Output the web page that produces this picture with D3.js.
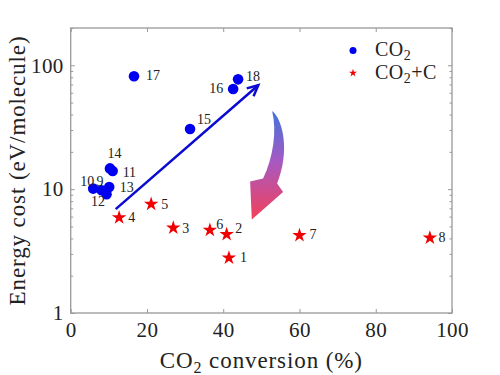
<!DOCTYPE html>
<html>
<head>
<meta charset="utf-8">
<script src="https://cdn.jsdelivr.net/npm/d3@7"></script>
<style>
  body { margin: 0; background: #fff; }
  svg { display: block; }
  text { font-family: "Liberation Serif", "DejaVu Serif", serif; fill: #222; }
</style>
</head>
<body>
<div id="chart"></div>
<script>
// CO2 only (blue circles)
const co2Labels = ['9', '10', '11', '12', '13', '14', '15', '16', '17', '18'];
const co2Conversion = [8.1, 5.9, 11.0, 9.4, 10.1, 10.3, 31.3, 42.6, 16.6, 43.9];
const co2Cost = [9.8, 10.1, 14.0, 9.1, 10.4, 14.7, 30.6, 64.4, 81.5, 77];

// CO2 + C (red stars)
const mixLabels = ['1', '2', '3', '4', '5', '6', '7', '8'];
const mixConversion = [41.5, 40.9, 26.9, 12.7, 21.1, 36.5, 60.0, 94.2];
const mixCost = [2.79, 4.31, 4.87, 5.9, 7.57, 4.67, 4.23, 4.05];

// axis ticks
const xTicks = [0, 20, 40, 60, 80, 100];
const yTicks = [1, 10, 100];

// label placement (pixel offset from the marker, text anchor)
const labelPos = {
    '9': [-1.5, -9, 'middle'], '10': [1, -7.5, 'end'], '11': [10, 1.5, 'start'],
    '12': [-1.5, 7, 'end'], '13': [10.5, 0.5, 'start'], '14': [4.5, -15, 'middle'],
    '15': [7, -10, 'start'], '16': [-10, -1, 'end'], '17': [12, -1.5, 'start'],
    '18': [8, -3, 'start'],
    '1': [11, -1, 'start'], '2': [8.5, -6, 'start'], '3': [9, 0, 'start'],
    '4': [9, 0, 'start'], '5': [10, 0, 'start'], '6': [6.5, -6, 'start'],
    '7': [10, -1, 'start'], '8': [8.5, -1, 'start']
};

const W = 500, H = 375;
const margin = {top: 28, right: 48, bottom: 62, left: 70.7};
const axisColor = '#999';

const svg = d3.select('#chart').append('svg')
    .attr('width', W)
    .attr('height', H);

const x = d3.scaleLinear().domain([0, 100]).range([margin.left, W - margin.right]);
const y = d3.scaleLog().domain([1, 200]).range([H - margin.bottom, margin.top]);

const minorY = [];
for (let d = 1; d <= 100; d *= 10) {
    for (let k = 2; k <= 9; k++) {
        if (k * d <= 200) minorY.push(k * d);
    }
}

//////////////////////////////////////////////////////////////////////
// Axes and frame
//////////////////////////////////////////////////////////////////////
function styleAxis(g) {
    g.select('.domain').remove();
    g.selectAll('.tick line').attr('stroke', axisColor).attr('stroke-width', 1);
    g.selectAll('.tick text').attr('font-size', 21).attr('fill', '#222')
        .attr('letter-spacing', 0.4)
        .attr('font-family', '"Liberation Serif", serif');
}

svg.append('g')
    .attr('transform', `translate(0,${H - margin.bottom})`)
    .call(d3.axisBottom(x).tickValues(xTicks).tickSize(-4).tickPadding(9))
    .call(styleAxis);

svg.append('g')
    .attr('transform', `translate(0,${margin.top})`)
    .call(d3.axisTop(x).tickValues(xTicks).tickSize(-4).tickFormat(''))
    .call(styleAxis);

svg.append('g')
    .attr('transform', `translate(${margin.left},0)`)
    .call(d3.axisLeft(y).tickValues(yTicks).tickSize(-4).tickPadding(7).tickFormat(d3.format('d')))
    .call(styleAxis);

svg.append('g')
    .attr('transform', `translate(${margin.left},0)`)
    .call(d3.axisLeft(y).tickValues(minorY).tickSize(-2.5).tickFormat(''))
    .call(styleAxis);

svg.append('g')
    .attr('transform', `translate(${W - margin.right},0)`)
    .call(d3.axisRight(y).tickValues(yTicks).tickSize(-4).tickFormat(''))
    .call(styleAxis);

svg.append('g')
    .attr('transform', `translate(${W - margin.right},0)`)
    .call(d3.axisRight(y).tickValues(minorY).tickSize(-2.5).tickFormat(''))
    .call(styleAxis);

svg.append('rect')
    .attr('x', margin.left)
    .attr('y', margin.top)
    .attr('width', W - margin.left - margin.right)
    .attr('height', H - margin.top - margin.bottom)
    .attr('fill', 'none')
    .attr('stroke', axisColor)
    .attr('stroke-width', 1.3);

// axis titles
const xTitle = svg.append('text')
    .attr('x', (margin.left + W - margin.right) / 2)
    .attr('y', 368)
    .attr('text-anchor', 'middle')
    .attr('font-size', 23)
    .attr('letter-spacing', 0.9);
xTitle.append('tspan').text('CO');
xTitle.append('tspan').text('2').attr('font-size', 16).attr('dy', 5);
xTitle.append('tspan').text(' conversion (%)').attr('dy', -5);

svg.append('text')
    .attr('transform', `translate(25,${(margin.top + H - margin.bottom) / 2}) rotate(-90)`)
    .attr('text-anchor', 'middle')
    .attr('font-size', 23)
    .attr('letter-spacing', 0.9)
    .text('Energy cost (eV/molecule)');

//////////////////////////////////////////////////////////////////////
// Annotation arrows
//////////////////////////////////////////////////////////////////////
const defs = svg.append('defs');
const grad = defs.append('linearGradient')
    .attr('id', 'trend')
    .attr('x1', 0).attr('y1', 0).attr('x2', 0).attr('y2', 1);
grad.append('stop').attr('offset', '0%').attr('stop-color', '#3f74dc');
grad.append('stop').attr('offset', '45%').attr('stop-color', '#a45ac4');
grad.append('stop').attr('offset', '100%').attr('stop-color', '#f4405a');

// curved arrow, drawn relative to its tip
const tipX = x(47.5), tipY = y(5.7);
const p = (dx, dy) => `${tipX + dx},${tipY + dy}`;
svg.append('path')
    .attr('d', `M${p(20.3, -108.5)} C${p(31.3, -100)} ${p(38.3, -68)} ${p(25.3, -36)}
        L${p(31.3, -27.5)} L${p(0, 0)} L${p(-1.7, -38)} L${p(11.3, -41)}
        C${p(21.3, -62)} ${p(25.3, -88)} ${p(20.3, -108.5)} Z`)
    .attr('fill', 'url(#trend)');

// blue trend arrow
const a0 = [x(11.8), y(6.9)], a1 = [x(49.2), y(69)];
const ang = Math.atan2(a1[1] - a0[1], a1[0] - a0[0]);
const headLen = 12, headAng = Math.PI / 7;
svg.append('line')
    .attr('x1', a0[0]).attr('y1', a0[1])
    .attr('x2', a1[0]).attr('y2', a1[1])
    .attr('stroke', '#0a0ad0')
    .attr('stroke-width', 2.5);
svg.append('path')
    .attr('d', `M${a1[0] - headLen * Math.cos(ang - headAng)},${a1[1] - headLen * Math.sin(ang - headAng)}
        L${a1[0]},${a1[1]}
        L${a1[0] - headLen * Math.cos(ang + headAng)},${a1[1] - headLen * Math.sin(ang + headAng)}`)
    .attr('fill', 'none')
    .attr('stroke', '#0a0ad0')
    .attr('stroke-width', 2.5)
    .attr('stroke-linejoin', 'miter');

//////////////////////////////////////////////////////////////////////
// Points
//////////////////////////////////////////////////////////////////////
const co2Data = co2Labels.map((l, i) => ({label: l, conv: co2Conversion[i], cost: co2Cost[i]}));
const mixData = mixLabels.map((l, i) => ({label: l, conv: mixConversion[i], cost: mixCost[i]}));

svg.selectAll('.co2')
    .data(co2Data)
    .enter()
    .append('circle')
    .attr('class', 'co2')
    .attr('cx', d => x(d.conv))
    .attr('cy', d => y(d.cost))
    .attr('r', 5.3)
    .attr('fill', '#0000f0');

const star = d3.symbol().type(d3.symbolStar).size(65);
svg.selectAll('.mix')
    .data(mixData)
    .enter()
    .append('path')
    .attr('class', 'mix')
    .attr('d', star)
    .attr('transform', d => `translate(${x(d.conv)},${y(d.cost)})`)
    .attr('fill', '#f00000');

svg.selectAll('.pt-label')
    .data(co2Data.concat(mixData))
    .enter()
    .append('text')
    .attr('class', 'pt-label')
    .attr('x', d => x(d.conv) + labelPos[d.label][0])
    .attr('y', d => y(d.cost) + labelPos[d.label][1])
    .attr('dy', '0.35em')
    .attr('text-anchor', d => labelPos[d.label][2])
    .attr('font-size', 14)
    .text(d => d.label);

//////////////////////////////////////////////////////////////////////
// Legend
//////////////////////////////////////////////////////////////////////
const legend = svg.append('g');
legend.append('circle')
    .attr('cx', 353).attr('cy', 50.5).attr('r', 3.5)
    .attr('fill', '#0000f0');
legend.append('path')
    .attr('d', d3.symbol().type(d3.symbolStar).size(20))
    .attr('transform', 'translate(353,73)')
    .attr('fill', '#f00000');

const l1 = legend.append('text').attr('x', 375).attr('y', 56).attr('font-size', 20).attr('letter-spacing', 0.5);
l1.append('tspan').text('CO');
l1.append('tspan').text('2').attr('font-size', 14).attr('dy', 4);

const l2 = legend.append('text').attr('x', 375).attr('y', 79).attr('font-size', 20).attr('letter-spacing', 0.5);
l2.append('tspan').text('CO');
l2.append('tspan').text('2').attr('font-size', 14).attr('dy', 4);
l2.append('tspan').text('+C').attr('dy', -4);
</script>
</body>
</html>
